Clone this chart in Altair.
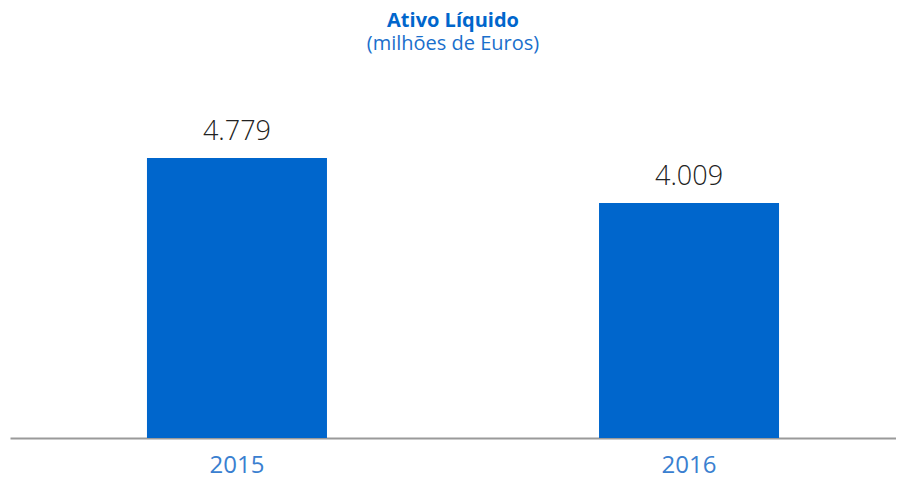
import altair as alt
import pandas as pd

years = ["2015", "2016"]
values = [4779, 4009]
labels = [f"{v:,}".replace(",", ".") for v in values]

df = pd.DataFrame({"ano": years, "valor": values, "rotulo": labels})

x = alt.X("ano:N", sort=years,
          scale=alt.Scale(range=[0, 906], paddingInner=0.6018, paddingOuter=0.303),
          axis=alt.Axis(title=None, labelAngle=0, ticks=False, labelFontSize=24,
                        labelColor="#3A80D0", labelFont="Open Sans", labelPadding=15,
                        domainColor="#9A9A9A", domainWidth=2))
y = alt.Y("valor:Q", scale=alt.Scale(domain=[0, 6281], nice=False, zero=True), axis=None)

bars = alt.Chart(df).mark_bar(color="#0066CC").encode(x=x, y=y)
text = alt.Chart(df).mark_text(baseline="bottom", dy=-12, fontSize=27, color="#222222",
                               font="Open Sans", fontWeight=300).encode(x=x, y=y, text="rotulo:N")

chart = (bars + text).properties(
    width=886, height=368,
    title=alt.TitleParams(text="Ativo Líquido", subtitle="(milhões de Euros)",
                          anchor="middle", font="Open Sans", fontSize=20, fontWeight="bold",
                          color="#0066CC", subtitleFont="Open Sans", subtitleFontSize=20,
                          subtitleColor="#1A6FCC", subtitlePadding=3, offset=16),
    autosize=alt.AutoSizeParams(type="none"),
    padding={"left": 2, "top": 62, "right": 0, "bottom": 40},
).configure_view(stroke=None)

chart.save("out.html", embed_options={"renderer": "svg", "actions": False})
